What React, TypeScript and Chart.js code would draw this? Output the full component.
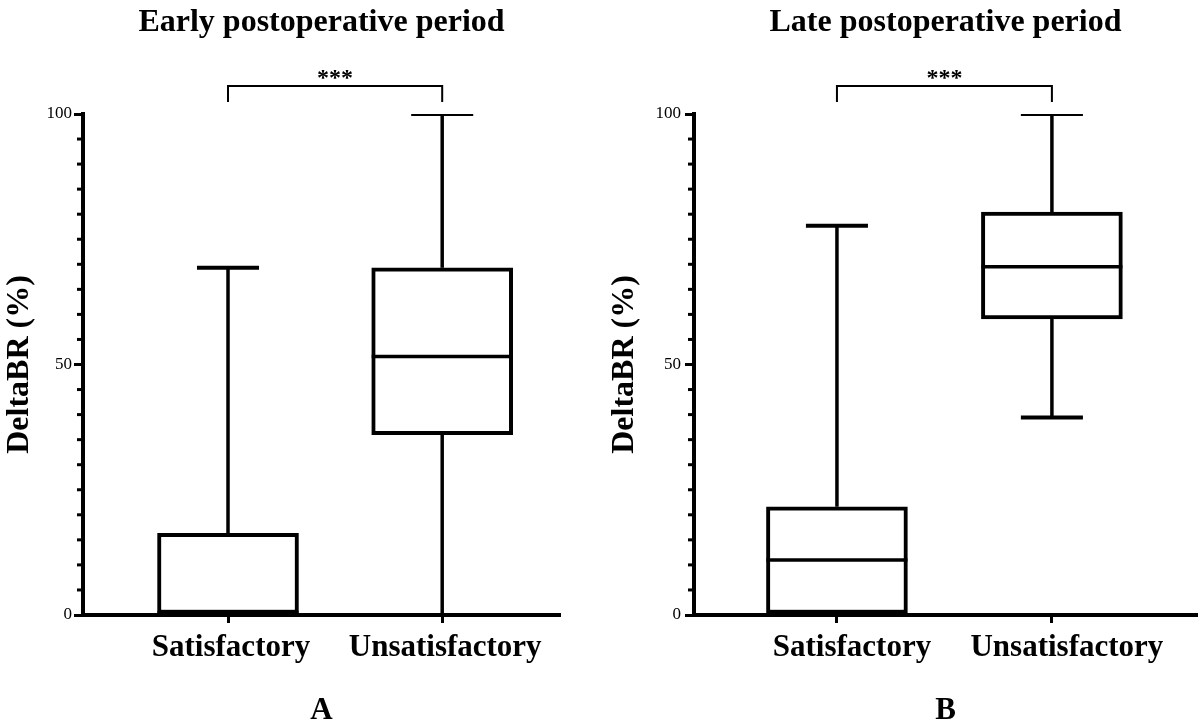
import React, { useEffect, useRef } from 'react';
import { Chart, registerables } from 'chart.js';

Chart.register(...registerables);

const FONT = "'Liberation Serif', 'Times New Roman', Times, serif";

// ---- data ----
const categories = ['Satisfactory', 'Unsatisfactory'];
const yMajorTicks = [0, 50, 100];

const earlyMin = [0, 0];
const earlyQ1 = [0.3, 36.0];
const earlyMedian = [0.5, 51.6];
const earlyQ3 = [16.3, 69.3];
const earlyMax = [69.3, 100];

const lateMin = [0, 39.4];
const lateQ1 = [0.3, 59.1];
const lateMedian = [11.0, 69.5];
const lateQ3 = [21.6, 80.4];
const lateMax = [77.7, 100];

const significance = '***';
const bracketValue = 105.6;
const bracketLegEnd = 102.4;

type PanelSpec = {
  title: string;
  letter: string;
  min: number[];
  q1: number[];
  median: number[];
  q3: number[];
  max: number[];
  xMin: number;
  xMax: number;
  yAxisWidth: number;
  rightPad: number;
  yTitlePad: number;
  yTickPad: number;
  labelOffset: number;
};

const boxPlugin = {
  id: 'boxWhisker',
  afterDatasetsDraw(chart: any, _args: any, opts: any) {
    const { ctx, chartArea, scales } = chart;
    const ys = scales.y;
    const xs = scales.x;
    const meta = chart.getDatasetMeta(0);
    const line = (x1: number, y1: number, x2: number, y2: number) => {
      ctx.beginPath();
      ctx.moveTo(x1, y1);
      ctx.lineTo(x2, y2);
      ctx.stroke();
    };
    ctx.save();
    ctx.beginPath();
    ctx.rect(chartArea.left, chartArea.top, chartArea.right - chartArea.left, chartArea.bottom - chartArea.top);
    ctx.clip();
    ctx.strokeStyle = '#000';
    ctx.lineCap = 'butt';
    meta.data.forEach((el: any, i: number) => {
      const cx = el.x;
      const half = el.width / 2;
      const cap = el.width * 0.22;
      const pMin = ys.getPixelForValue(opts.min[i]);
      const pQ1 = ys.getPixelForValue(opts.q1[i]);
      const pMed = ys.getPixelForValue(opts.median[i]);
      const pQ3 = ys.getPixelForValue(opts.q3[i]);
      const pMax = ys.getPixelForValue(opts.max[i]);
      ctx.lineWidth = 3.5;
      line(cx, pQ3, cx, pMax);
      line(cx, pQ1, cx, pMin);
      ctx.lineWidth = 4;
      line(cx - cap, pMax, cx + cap, pMax);
      line(cx - cap, pMin, cx + cap, pMin);
      ctx.lineWidth = 3.5;
      line(cx - half, pMed, cx + half, pMed);
    });
    ctx.restore();

    // minor ticks on y axis
    ctx.save();
    ctx.strokeStyle = '#000';
    ctx.lineWidth = 3;
    ys.ticks.forEach((t: any) => {
      if (yMajorTicks.indexOf(t.value) === -1) {
        const p = ys.getPixelForValue(t.value);
        line(chartArea.left - 6, p, chartArea.left, p);
      }
    });

    // significance bracket
    const bx1 = xs.getPixelForValue(1);
    const bx2 = xs.getPixelForValue(2);
    const by = ys.getPixelForValue(opts.bracket);
    const byEnd = ys.getPixelForValue(opts.bracketEnd);
    ctx.lineWidth = 2;
    ctx.beginPath();
    ctx.moveTo(bx1, byEnd);
    ctx.lineTo(bx1, by);
    ctx.lineTo(bx2, by);
    ctx.lineTo(bx2, byEnd);
    ctx.stroke();
    ctx.fillStyle = '#000';
    ctx.font = `bold 24px ${FONT}`;
    ctx.textAlign = 'center';
    ctx.textBaseline = 'alphabetic';
    ctx.fillText(opts.label, (bx1 + bx2) / 2, by - 1);
    ctx.restore();
  },
};

function BoxPanel({ spec, left }: { spec: PanelSpec; left: number }) {
  const ref = useRef<HTMLCanvasElement | null>(null);
  useEffect(() => {
    if (!ref.current) return;
    const data = categories.map((_, i) => ({ x: i + 1, y: [spec.q1[i], spec.q3[i]] }));
    const chart = new Chart(ref.current, {
      type: 'bar',
      data: {
        datasets: [
          {
            data: data as any,
            backgroundColor: '#ffffff',
            borderColor: '#000000',
            borderWidth: 4,
            borderSkipped: false,
            barThickness: 141,
          },
        ],
      },
      plugins: [boxPlugin],
      options: {
        responsive: false,
        maintainAspectRatio: false,
        animation: false,
        devicePixelRatio: 1,
        layout: { padding: { left: 0, right: spec.rightPad, top: 0, bottom: 0 } },
        plugins: {
          legend: { display: false },
          tooltip: { enabled: false },
          title: {
            display: true,
            text: spec.title,
            fullSize: false,
            color: '#000',
            font: { family: FONT, size: 32, weight: 'bold' },
            padding: { top: 4, bottom: 71.6 },
          },
          boxWhisker: {
            min: spec.min,
            q1: spec.q1,
            median: spec.median,
            q3: spec.q3,
            max: spec.max,
            bracket: bracketValue,
            bracketEnd: bracketLegEnd,
            label: significance,
          },
        } as any,
        scales: {
          x: {
            type: 'linear',
            min: spec.xMin,
            max: spec.xMax,
            offset: false,
            afterBuildTicks: (axis: any) => {
              axis.ticks = categories.map((_, i) => ({ value: i + 1 }));
            },
            afterFit: (axis: any) => {
              axis.height = 108;
            },
            ticks: {
              autoSkip: false,
              maxRotation: 0,
              minRotation: 0,
              color: '#000',
              padding: 6,
              labelOffset: spec.labelOffset,
              font: { family: FONT, size: 31, weight: 'bold' },
              callback: (v: any) => categories[Math.round(Number(v)) - 1] ?? '',
            },
            grid: {
              offset: false,
              drawOnChartArea: false,
              drawTicks: true,
              tickLength: 8,
              tickWidth: 3,
              tickColor: '#000',
            },
            border: { display: true, color: '#000', width: 4 },
            title: {
              display: true,
              text: spec.letter,
              color: '#000',
              font: { family: FONT, size: 31, weight: 'bold', lineHeight: 0.8 },
              padding: 0,
            },
          },
          y: {
            type: 'linear',
            min: 0,
            max: 100,
            afterFit: (axis: any) => {
              axis.width = spec.yAxisWidth;
            },
            ticks: {
              stepSize: 5,
              autoSkip: false,
              color: '#000',
              padding: spec.yTickPad,
              font: { family: FONT, size: 17 },
              callback: (v: any) => (yMajorTicks.indexOf(Number(v)) !== -1 ? String(v) : ''),
            },
            grid: {
              drawOnChartArea: false,
              drawTicks: true,
              tickLength: 9,
              tickWidth: 3,
              tickColor: (c: any) =>
                c.tick && yMajorTicks.indexOf(c.tick.value) !== -1 ? '#000' : 'rgba(0,0,0,0)',
            },
            border: { display: true, color: '#000', width: 4 },
            title: {
              display: true,
              text: 'DeltaBR (%)',
              color: '#000',
              font: { family: FONT, size: 32, weight: 'bold' },
              padding: { top: spec.yTitlePad, bottom: 0 },
            },
          },
        },
      } as any,
    });
    return () => chart.destroy();
  }, [spec]);
  return (
    <canvas
      ref={ref}
      width={600}
      height={723}
      style={{ position: 'absolute', left, top: 0, width: 600, height: 723 }}
    />
  );
}

const earlySpec: PanelSpec = {
  title: 'Early postoperative period',
  letter: 'A',
  min: earlyMin,
  q1: earlyQ1,
  median: earlyMedian,
  q3: earlyQ3,
  max: earlyMax,
  xMin: 0.323,
  xMax: 2.55,
  yAxisWidth: 83,
  rightPad: 40,
  yTitlePad: 1,
  yTickPad: 2,
  labelOffset: 3,
};

const lateSpec: PanelSpec = {
  title: 'Late postoperative period',
  letter: 'B',
  min: lateMin,
  q1: lateQ1,
  median: lateMedian,
  q3: lateQ3,
  max: lateMax,
  xMin: 0.335,
  xMax: 2.675,
  yAxisWidth: 94,
  rightPad: 3,
  yTitlePad: 6,
  yTickPad: 4,
  labelOffset: 15,
};

export default function App() {
  return (
    <div style={{ position: 'absolute', left: 0, top: 0, width: 1200, height: 723, background: '#fff' }}>
      <BoxPanel spec={earlySpec} left={0} />
      <BoxPanel spec={lateSpec} left={600} />
    </div>
  );
}
